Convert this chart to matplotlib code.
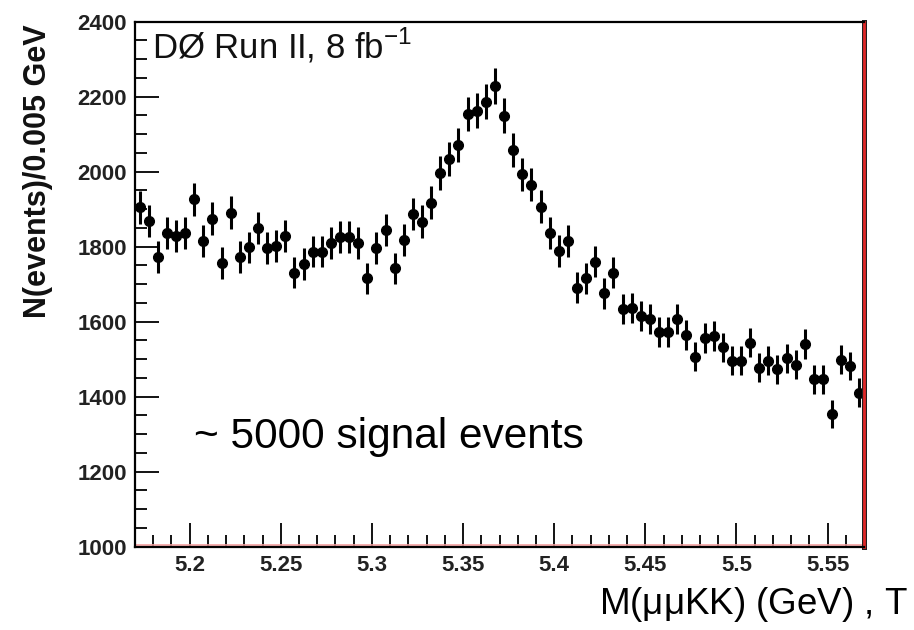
import numpy as np
import matplotlib
matplotlib.use('Agg')
import matplotlib.pyplot as plt
from matplotlib.ticker import MultipleLocator, FixedLocator
import matplotlib.patheffects as pe

# ---- data ----
bin_width = 0.005
mass_low = 5.17
counts = [1905, 1869, 1772, 1837, 1829, 1837, 1926, 1816, 1875, 1757,
          1891, 1773, 1798, 1849, 1796, 1802, 1829, 1731, 1754, 1787,
          1787, 1809, 1827, 1827, 1809, 1716, 1796, 1845, 1742, 1818,
          1887, 1867, 1917, 1996, 2033, 2071, 2154, 2163, 2187, 2229,
          2149, 2058, 1993, 1965, 1907, 1837, 1789, 1815, 1691, 1716,
          1760, 1676, 1731, 1633, 1636, 1615, 1606, 1573, 1573, 1606,
          1565, 1507, 1556, 1562, 1532, 1496, 1496, 1544, 1477, 1496,
          1473, 1502, 1485, 1541, 1446, 1446, 1354, 1498, 1482, 1411]
x_ticks = [5.20, 5.25, 5.30, 5.35, 5.40, 5.45, 5.50, 5.55]
x_tick_labels = ['5.2', '5.25', '5.3', '5.35', '5.4', '5.45', '5.5', '5.55']
y_ticks = [1000, 1200, 1400, 1600, 1800, 2000, 2200, 2400]
y_tick_labels = ['1000', '1200', '1400', '1600', '1800', '2000', '2200', '2400']

counts = np.array(counts, dtype=float)
edges = mass_low + bin_width * np.arange(len(counts) + 1)
centers = 0.5 * (edges[:-1] + edges[1:])
errors = np.sqrt(counts)

plt.rcParams['font.family'] = ['Liberation Sans', 'DejaVu Sans']

fig = plt.figure(figsize=(9.14, 6.3), dpi=100)
ax = fig.add_axes([0.1477, 0.1322, 0.7976, 0.8334])

ax.errorbar(centers, counts, yerr=errors, fmt='o', color='black',
            markersize=7, elinewidth=2.2, capsize=0, clip_on=True)

ax.set_xlim(edges[0], edges[-1])
ax.set_ylim(1000, 2400)

ax.xaxis.set_major_locator(FixedLocator(x_ticks))
ax.set_xticklabels(x_tick_labels)
ax.xaxis.set_minor_locator(MultipleLocator(0.01))
ax.yaxis.set_major_locator(FixedLocator(y_ticks))
ax.set_yticklabels(y_tick_labels)
ax.yaxis.set_minor_locator(MultipleLocator(50))

ax.tick_params(axis='both', which='major', direction='in', length=17,
               width=1.3, labelsize=16, pad=6)
ax.tick_params(axis='both', which='minor', direction='in', length=8.5,
               width=1.3)
ax.tick_params(top=False, right=False, which='both')
for lab in ax.get_xticklabels() + ax.get_yticklabels():
    lab.set_fontweight('bold')
    lab.set_color('#222222')

for s in ['left', 'top', 'bottom']:
    ax.spines[s].set_linewidth(1.6)
    ax.spines[s].set_color('black')
ax.spines['right'].set_color('#e02828')
ax.spines['right'].set_linewidth(2.0)
ax.spines['right'].set_path_effects([pe.withStroke(linewidth=3.6, foreground='#202020')])
ax.plot([0, 1], [0.004, 0.004], transform=ax.transAxes, color='#f4a0a0',
        lw=1.2, clip_on=False)

ax.text(0.023, 0.955, r'DØ Run II, 8 fb$^{\mathregular{-1}}$', transform=ax.transAxes,
        fontsize=25, va='center', ha='left', color='#111111')
ax.text(0.081, 0.209, '~ 5000 signal events', transform=ax.transAxes,
        fontsize=30.5, va='center', ha='left', color='black')

fig.text(0.042, 0.729, 'N(events)/0.005 GeV', rotation=90, fontsize=22,
         fontweight='bold', va='center', ha='center', color='#111111')
fig.text(0.655, 0.04, r'M($\mathregular{\mu\mu}$KK) (GeV) , T', fontsize=26.5,
         va='center', ha='left', color='black')

fig.savefig('out.png', dpi=100)
